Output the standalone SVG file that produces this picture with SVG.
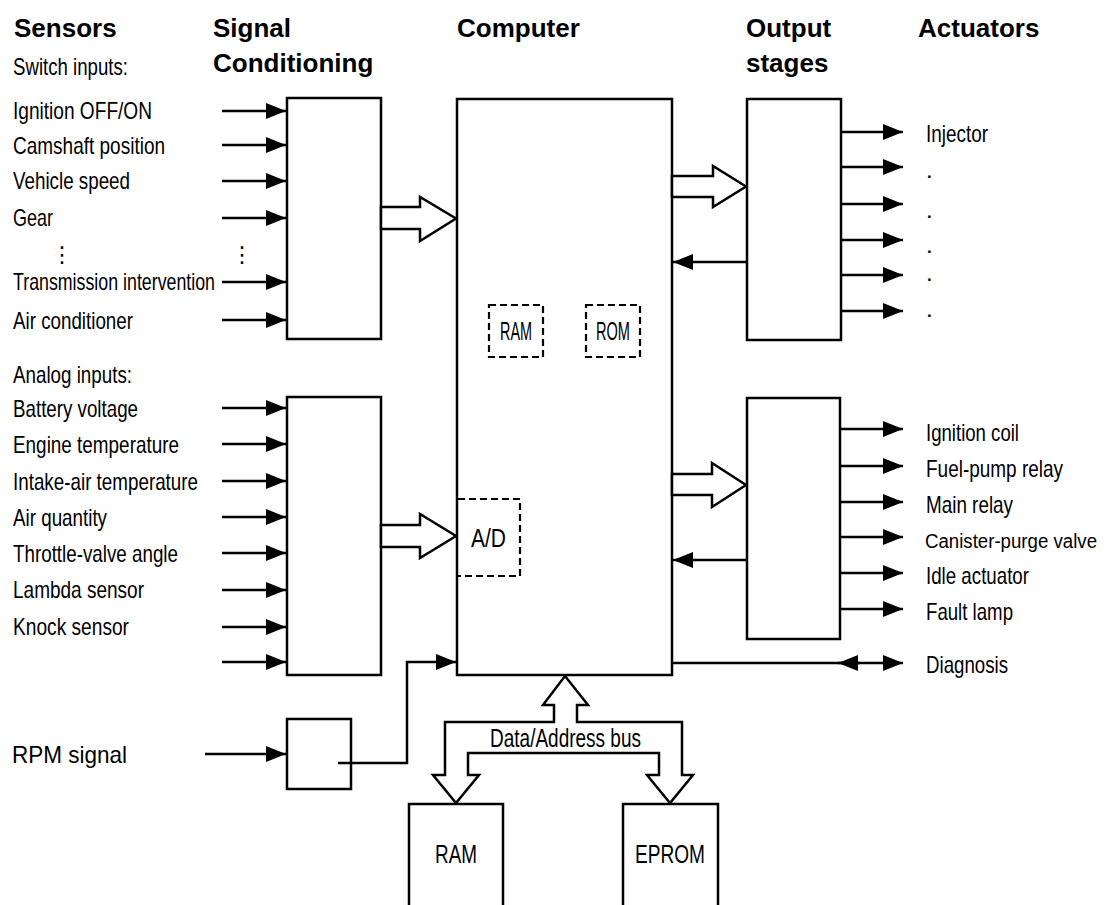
<svg xmlns="http://www.w3.org/2000/svg" width="1111" height="905" viewBox="0 0 1111 905">
<style>
  text { font-family: "Liberation Sans", Arial, sans-serif; fill: #000; }
  .hd { font-size: 26px; font-weight: bold; }
  .lb { font-size: 24px; }
  .in { font-size: 25px; }
  .box { fill: #fff; stroke: #000; stroke-width: 2.5; }
  .dash { fill: none; stroke: #000; stroke-width: 2.2; stroke-dasharray: 7 4; }
  .arr { fill: none; stroke: #000; stroke-width: 2.5; marker-end: url(#ah); }
  .hollow { fill: #fff; stroke: #000; stroke-width: 2.5; stroke-linejoin: miter; }
  .dots { font-family: "DejaVu Sans", sans-serif; font-size: 22px; }
</style>
<defs>
  <marker id="ah" markerUnits="userSpaceOnUse" markerWidth="20" markerHeight="17" refX="20" refY="8" orient="auto" viewBox="0 0 20 16">
    <path d="M0,0 L20,8 L0,16 z" fill="#000"/>
  </marker>
</defs>
<rect width="1111" height="905" fill="#fff"/>

<g id="headers">
  <text class="hd" x="14" y="37">Sensors</text>
  <text class="hd" x="213" y="37">Signal</text>
  <text class="hd" x="213" y="72">Conditioning</text>
  <text class="hd" x="457" y="37">Computer</text>
  <text class="hd" x="746" y="37">Output</text>
  <text class="hd" x="746" y="72">stages</text>
  <text class="hd" x="918" y="37">Actuators</text>
</g>

<g id="sensor-labels">
  <text class="lb" x="13" y="75" textLength="115" lengthAdjust="spacingAndGlyphs">Switch inputs:</text>
  <text class="lb" x="13" y="119" textLength="139" lengthAdjust="spacingAndGlyphs">Ignition OFF/ON</text>
  <text class="lb" x="13" y="154" textLength="152" lengthAdjust="spacingAndGlyphs">Camshaft position</text>
  <text class="lb" x="13" y="189" textLength="117" lengthAdjust="spacingAndGlyphs">Vehicle speed</text>
  <text class="lb" x="13" y="226" textLength="40" lengthAdjust="spacingAndGlyphs">Gear</text>
  <text class="dots" x="62" y="262" text-anchor="middle">⋮</text>
  <text class="dots" x="242" y="262" text-anchor="middle">⋮</text>
  <text class="lb" x="13" y="290" textLength="202" lengthAdjust="spacingAndGlyphs">Transmission intervention</text>
  <text class="lb" x="13" y="329" textLength="120" lengthAdjust="spacingAndGlyphs">Air conditioner</text>
  <text class="lb" x="13" y="383" textLength="119" lengthAdjust="spacingAndGlyphs">Analog inputs:</text>
  <text class="lb" x="13" y="417" textLength="125" lengthAdjust="spacingAndGlyphs">Battery voltage</text>
  <text class="lb" x="13" y="453" textLength="166" lengthAdjust="spacingAndGlyphs">Engine temperature</text>
  <text class="lb" x="13" y="490" textLength="185" lengthAdjust="spacingAndGlyphs">Intake-air temperature</text>
  <text class="lb" x="13" y="526" textLength="94" lengthAdjust="spacingAndGlyphs">Air quantity</text>
  <text class="lb" x="13" y="562" textLength="165" lengthAdjust="spacingAndGlyphs">Throttle-valve angle</text>
  <text class="lb" x="13" y="598" textLength="131" lengthAdjust="spacingAndGlyphs">Lambda sensor</text>
  <text class="lb" x="13" y="635" textLength="116" lengthAdjust="spacingAndGlyphs">Knock sensor</text>
  <text class="lb" x="12" y="763" textLength="115" lengthAdjust="spacingAndGlyphs">RPM signal</text>
</g>

<g id="actuator-labels">
  <text class="lb" x="926" y="142" textLength="62" lengthAdjust="spacingAndGlyphs">Injector</text>
  <text class="lb" x="926" y="178">.</text>
  <text class="lb" x="926" y="218">.</text>
  <text class="lb" x="926" y="253">.</text>
  <text class="lb" x="926" y="281">.</text>
  <text class="lb" x="926" y="317">.</text>
  <text class="lb" x="926" y="441" textLength="93" lengthAdjust="spacingAndGlyphs">Ignition coil</text>
  <text class="lb" x="926" y="477" textLength="137" lengthAdjust="spacingAndGlyphs">Fuel-pump relay</text>
  <text class="lb" x="926" y="513" textLength="87" lengthAdjust="spacingAndGlyphs">Main relay</text>
  <text x="925" y="548" style="font-size:19.5px" textLength="172" lengthAdjust="spacingAndGlyphs">Canister-purge valve</text>
  <text class="lb" x="926" y="584" textLength="103" lengthAdjust="spacingAndGlyphs">Idle actuator</text>
  <text class="lb" x="926" y="620" textLength="87" lengthAdjust="spacingAndGlyphs">Fault lamp</text>
  <text class="lb" x="926" y="673" textLength="82" lengthAdjust="spacingAndGlyphs">Diagnosis</text>
</g>

<g id="signal-conditioning-switch">
  <rect class="box" x="287" y="98" width="94" height="241"/>
</g>
<g id="signal-conditioning-analog">
  <rect class="box" x="287" y="397" width="94" height="278"/>
</g>
<g id="rpm-conditioning">
  <rect class="box" x="287" y="719" width="64" height="70"/>
</g>
<g id="computer">
  <rect class="box" x="457" y="99" width="215" height="576"/>
  <g id="internal-ram">
    <rect class="dash" x="489" y="305" width="54" height="52"/>
    <text class="in" x="500" y="340" textLength="32" lengthAdjust="spacingAndGlyphs">RAM</text>
  </g>
  <g id="internal-rom">
    <rect class="dash" x="586" y="305" width="54" height="52"/>
    <text class="in" x="596" y="340" textLength="34" lengthAdjust="spacingAndGlyphs">ROM</text>
  </g>
  <g id="ad-converter">
    <path class="dash" d="M458,499 H520 V576 H458"/>
    <text class="in" x="471" y="547" textLength="35" lengthAdjust="spacingAndGlyphs">A/D</text>
  </g>
</g>
<g id="output-stage-1">
  <rect class="box" x="747" y="99" width="94" height="241"/>
</g>
<g id="output-stage-2">
  <rect class="box" x="747" y="398" width="93" height="241"/>
</g>
<g id="ram">
  <rect class="box" x="409" y="804" width="94" height="110"/>
  <text class="in" x="435" y="863" textLength="42" lengthAdjust="spacingAndGlyphs">RAM</text>
</g>
<g id="eprom">
  <rect class="box" x="623" y="804" width="95" height="110"/>
  <text class="in" x="635" y="863" textLength="70" lengthAdjust="spacingAndGlyphs">EPROM</text>
</g>

<g id="connectors">
  <line class="arr" x1="222" y1="111" x2="286" y2="111"/>
  <line class="arr" x1="222" y1="145" x2="286" y2="145"/>
  <line class="arr" x1="222" y1="181" x2="286" y2="181"/>
  <line class="arr" x1="222" y1="218" x2="286" y2="218"/>
  <line class="arr" x1="222" y1="282" x2="286" y2="282"/>
  <line class="arr" x1="222" y1="320" x2="286" y2="320"/>
  <line class="arr" x1="222" y1="408" x2="286" y2="408"/>
  <line class="arr" x1="222" y1="444" x2="286" y2="444"/>
  <line class="arr" x1="222" y1="481" x2="286" y2="481"/>
  <line class="arr" x1="222" y1="517" x2="286" y2="517"/>
  <line class="arr" x1="222" y1="553" x2="286" y2="553"/>
  <line class="arr" x1="222" y1="590" x2="286" y2="590"/>
  <line class="arr" x1="222" y1="627" x2="286" y2="627"/>
  <line class="arr" x1="222" y1="662" x2="286" y2="662"/>
  <line class="arr" x1="205" y1="754" x2="286" y2="754"/>
  <path class="arr" d="M338,763 H407 V662 H456"/>
  <polygon class="hollow" points="381,207 420,207 420,197 456,218.5 420,241 420,229 381,229"/>
  <polygon class="hollow" points="381,525 420,525 420,514 456,536 420,558 420,547 381,547"/>
  <polygon class="hollow" points="672,176 713,176 713,166 746,186.5 713,207 713,197 672,197"/>
  <polygon class="hollow" points="672,474 712,474 712,463 746,485 712,507 712,495 672,495"/>
  <line class="arr" x1="747" y1="262" x2="673" y2="262"/>
  <line class="arr" x1="747" y1="560" x2="673" y2="560"/>
  <line class="arr" x1="841" y1="132" x2="903" y2="132"/>
  <line class="arr" x1="841" y1="167" x2="903" y2="167"/>
  <line class="arr" x1="841" y1="204" x2="903" y2="204"/>
  <line class="arr" x1="841" y1="240" x2="903" y2="240"/>
  <line class="arr" x1="841" y1="275" x2="903" y2="275"/>
  <line class="arr" x1="841" y1="311" x2="903" y2="311"/>
  <line class="arr" x1="840" y1="429" x2="903" y2="429"/>
  <line class="arr" x1="840" y1="466" x2="903" y2="466"/>
  <line class="arr" x1="840" y1="502" x2="903" y2="502"/>
  <line class="arr" x1="840" y1="537" x2="903" y2="537"/>
  <line class="arr" x1="840" y1="573" x2="903" y2="573"/>
  <line class="arr" x1="840" y1="609" x2="903" y2="609"/>
  <line class="arr" x1="672" y1="663" x2="903" y2="663"/>
  <line class="arr" x1="860" y1="663" x2="838" y2="663"/>
  <polygon class="hollow" points="565,676 588,705 577,705 577,722 682,722 682,775 693,775 670,803 647,775 659,775 659,753 468,753 468,775 479,775 456,803 433,775 445,775 445,722 554,722 554,705 543,705"/>
  <text class="in" x="490" y="747" textLength="151" lengthAdjust="spacingAndGlyphs">Data/Address bus</text>
</g>
</svg>
